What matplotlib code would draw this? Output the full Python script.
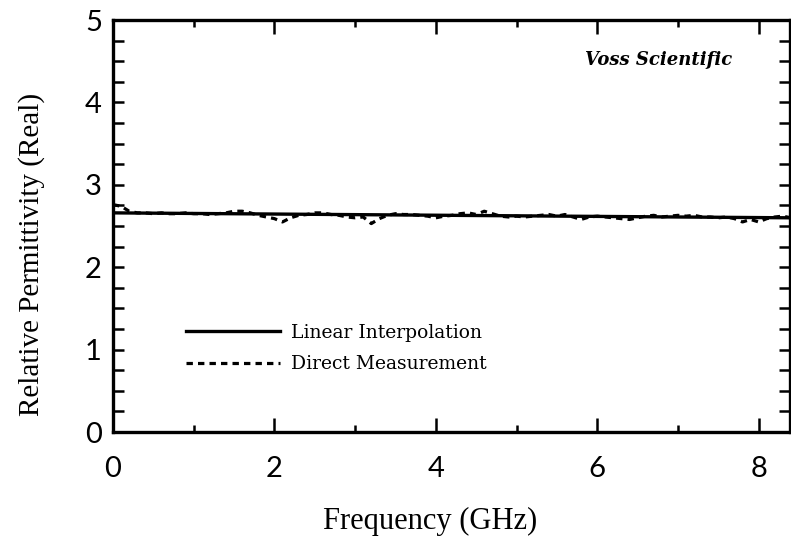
import numpy as np
import matplotlib
matplotlib.use('Agg')
import matplotlib.pyplot as plt
from matplotlib.ticker import MultipleLocator

# linear fit end points
fit_f = [0.0, 8.4]
fit_eps = [2.66, 2.60]

meas_f = [0.0, 0.1, 0.2, 0.3, 0.4, 0.5, 0.6, 0.7, 0.8, 0.9,
          1.0, 1.1, 1.2, 1.3, 1.4, 1.5, 1.6, 1.7, 1.8, 1.9,
          2.0, 2.1, 2.2, 2.3, 2.4, 2.5, 2.6, 2.7, 2.8, 2.9,
          3.0, 3.1, 3.2, 3.3, 3.4, 3.5, 3.6, 3.7, 3.8, 3.9,
          4.0, 4.1, 4.2, 4.3, 4.4, 4.5, 4.6, 4.7, 4.8, 4.9,
          5.0, 5.1, 5.2, 5.3, 5.4, 5.5, 5.6, 5.7, 5.8, 5.9,
          6.0, 6.1, 6.2, 6.3, 6.4, 6.5, 6.6, 6.7, 6.8, 6.9,
          7.0, 7.1, 7.2, 7.3, 7.4, 7.5, 7.6, 7.7, 7.8, 7.9,
          8.0, 8.1, 8.2, 8.3, 8.4]
meas_eps = [2.76, 2.74, 2.68, 2.66, 2.66, 2.65, 2.66, 2.65, 2.65, 2.66,
            2.65, 2.65, 2.64, 2.65, 2.66, 2.68, 2.68, 2.66, 2.63, 2.61,
            2.59, 2.55, 2.60, 2.63, 2.64, 2.66, 2.66, 2.64, 2.63, 2.61,
            2.60, 2.61, 2.53, 2.59, 2.63, 2.65, 2.64, 2.64, 2.63, 2.62,
            2.60, 2.62, 2.63, 2.65, 2.66, 2.64, 2.68, 2.65, 2.62, 2.61,
            2.62, 2.61, 2.62, 2.63, 2.64, 2.62, 2.64, 2.61, 2.58, 2.61,
            2.62, 2.61, 2.60, 2.59, 2.58, 2.60, 2.62, 2.63, 2.61, 2.62,
            2.63, 2.62, 2.63, 2.61, 2.61, 2.60, 2.61, 2.59, 2.55, 2.58,
            2.55, 2.59, 2.61, 2.62, 2.60]

fig = plt.figure(figsize=(7.91, 5.5), dpi=100)
ax = fig.add_axes([0.1429, 0.2145, 0.856, 0.749])

ax.plot(fit_f, fit_eps, color='black', lw=2.4, label='Linear Interpolation')
ax.plot(meas_f, meas_eps, color='black', lw=2.3, ls=(0, (2, 1.6)),
        label='Direct Measurement')

ax.set_xlim(0, 8.39)
ax.set_ylim(0, 5)

for s in ax.spines.values():
    s.set_linewidth(2.4)

ax.xaxis.set_major_locator(MultipleLocator(2))
ax.xaxis.set_minor_locator(MultipleLocator(1))
ax.yaxis.set_major_locator(MultipleLocator(1))
ax.yaxis.set_minor_locator(MultipleLocator(0.25))
ax.tick_params(which='both', direction='in', top=True, right=True, width=1.8)
ax.tick_params(which='major', length=10, pad=17)
ax.tick_params(which='minor', length=5)
ax.tick_params(axis='y', which='both', length=8)
ax.tick_params(axis='y', pad=8)
for lab in ax.get_xticklabels() + ax.get_yticklabels():
    lab.set_fontfamily('Lato')
    lab.set_fontsize(21)

ax.set_xlabel('Frequency (GHz)', family='Liberation Serif', fontsize=22)
ax.xaxis.set_label_coords(0.468, -0.182)
ax.set_ylabel('Relative Permittivity (Real)', family='Liberation Serif', fontsize=21)
ax.yaxis.set_label_coords(-0.10, 0.43)

ax.text(0.914, 0.902, 'Voss Scientific', transform=ax.transAxes, ha='right',
        va='center', family='DejaVu Serif', style='italic', weight='bold',
        fontsize=13)

ax.legend(loc='upper left', bbox_to_anchor=(0.094, 0.285), frameon=False,
          prop={'family': 'DejaVu Serif', 'size': 13.5}, handlelength=5.0,
          handletextpad=0.6, borderpad=0, labelspacing=0.7)

fig.savefig('out.png', dpi=100)
